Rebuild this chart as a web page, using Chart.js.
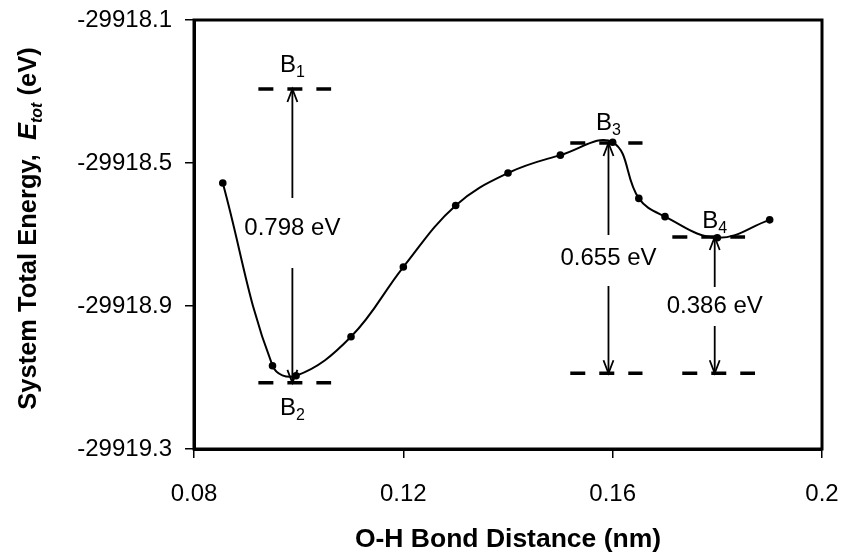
<!DOCTYPE html>
<html>
<head>
<meta charset="utf-8">
<script src="https://cdn.jsdelivr.net/npm/chart.js@4/dist/chart.umd.min.js"></script>
<style>
  body { margin: 0; background: #fff; }
  #wrap { width: 842px; height: 554px; }
</style>
</head>
<body>
<div id="wrap"><canvas id="energyChart" width="842" height="554"></canvas></div>
<script>
// O-H bond distance (nm) and system total energy (eV)
const distances = [0.0855, 0.095, 0.0995, 0.11, 0.12, 0.13, 0.14, 0.15, 0.16, 0.165, 0.17, 0.18, 0.19];
const energies = [-29918.556, -29919.067, -29919.095, -29918.986, -29918.791, -29918.619, -29918.528,
                  -29918.478, -29918.442, -29918.599, -29918.650, -29918.709, -29918.659];

const xTicks = [0.08, 0.12, 0.16, 0.2];
const yTicks = [-29919.3, -29918.9, -29918.5, -29918.1];

// dashed reference levels (x from, x to, energy)
const dashFrom = [0.0923, 0.0923, 0.1519, 0.1519, 0.1714, 0.1733];
const dashTo = [0.1062, 0.1062, 0.1657, 0.1657, 0.1853, 0.1872];
const dashLevel = [-29918.293, -29919.115, -29918.444, -29919.088, -29918.707, -29919.088];

// barrier arrows
const barrierX = [0.0988, 0.1592, 0.1795];
const barrierTop = [-29918.293, -29918.444, -29918.707];
const barrierBottom = [-29919.115, -29919.088, -29919.088];
const barrierLabels = ['0.798 eV', '0.655 eV', '0.386 eV'];

// state labels B1..B4 : x, energy
const stateNames = ['1', '2', '3', '4'];
const stateX = [0.0988, 0.0988, 0.1592, 0.1795];
const stateLevel = [-29918.293, -29919.115, -29918.444, -29918.707];

const FONT = 'Arial, "Liberation Sans", sans-serif';

// little offsets in pixels (style only)
const labelShift = [-8, 0, 1];
const gapUp = [30, 23, 19];
const gapDown = [40, 28, 20];
const stateBaseline = [-17, 32, -13, -9];

function arrowHead(ctx, x, y, dir) {
  ctx.beginPath();
  ctx.moveTo(x - 5, y + dir * 13);
  ctx.lineTo(x, y);
  ctx.lineTo(x + 5, y + dir * 13);
  ctx.stroke();
}

const annotations = {
  id: 'annotations',
  afterDatasetsDraw(chart) {
    const { ctx, chartArea, scales } = chart;
    const xs = scales.x, ys = scales.y;
    ctx.save();
    // box round the plot
    ctx.strokeStyle = '#000';
    ctx.lineWidth = 3;
    ctx.strokeRect(chartArea.left, chartArea.top, chartArea.right - chartArea.left, chartArea.bottom - chartArea.top);

    // arrows with labels
    ctx.lineWidth = 1.8;
    ctx.fillStyle = '#000';
    ctx.font = '24px ' + FONT;
    ctx.textAlign = 'center';
    ctx.textBaseline = 'middle';
    barrierX.forEach((xv, i) => {
      const px = xs.getPixelForValue(xv);
      const top = ys.getPixelForValue(barrierTop[i]);
      const bot = ys.getPixelForValue(barrierBottom[i]);
      const mid = (top + bot) / 2 + labelShift[i];
      ctx.beginPath();
      ctx.moveTo(px, top);
      ctx.lineTo(px, mid - gapUp[i]);
      ctx.moveTo(px, mid + gapDown[i]);
      ctx.lineTo(px, bot);
      ctx.stroke();
      arrowHead(ctx, px, top, 1);
      arrowHead(ctx, px, bot, -1);
      ctx.fillText(barrierLabels[i], px, mid);
    });

    // B labels with subscripts
    ctx.textAlign = 'left';
    ctx.textBaseline = 'alphabetic';
    stateNames.forEach((s, i) => {
      const px = xs.getPixelForValue(stateX[i]);
      const py = ys.getPixelForValue(stateLevel[i]) + stateBaseline[i];
      ctx.font = '24px ' + FONT;
      const wB = ctx.measureText('B').width;
      ctx.font = '16px ' + FONT;
      const wS = ctx.measureText(s).width;
      const x0 = px - (wB + wS) / 2;
      ctx.font = '24px ' + FONT;
      ctx.fillText('B', x0, py);
      ctx.font = '16px ' + FONT;
      ctx.fillText(s, x0 + wB, py + 5);
    });

    // y axis title, mixed styles
    const parts = [
      { t: 'System Total Energy,  ', f: 'bold 25.5px ' + FONT, dy: 0 },
      { t: 'E', f: 'italic bold 25.5px ' + FONT, dy: 0 },
      { t: 'tot', f: 'italic bold 16px ' + FONT, dy: 6 },
      { t: ' (eV)', f: 'bold 25.5px ' + FONT, dy: 0 }
    ];
    let total = 0;
    parts.forEach(p => { ctx.font = p.f; p.w = ctx.measureText(p.t).width; total += p.w; });
    ctx.translate(36, (chartArea.top + chartArea.bottom) / 2 - 6);
    ctx.rotate(-Math.PI / 2);
    let cx = -total / 2;
    parts.forEach(p => {
      ctx.font = p.f;
      ctx.fillText(p.t, cx, p.dy);
      cx += p.w;
    });
    ctx.restore();
  }
};

const datasets = [{
  data: distances.map((d, i) => ({ x: d, y: energies[i] })),
  borderColor: '#000',
  borderWidth: 2,
  pointRadius: 3.8,
  pointBorderWidth: 0,
  pointBackgroundColor: '#000',
  tension: 0.4,
  fill: false
}];
dashFrom.forEach((x0, i) => {
  datasets.push({
    data: [{ x: x0, y: dashLevel[i] }, { x: dashTo[i], y: dashLevel[i] }],
    borderColor: '#000',
    borderWidth: 3.5,
    borderDash: [15, 14],
    pointRadius: 0,
    tension: 0,
    fill: false
  });
});

new Chart(document.getElementById('energyChart').getContext('2d'), {
  type: 'line',
  data: { datasets: datasets },
  options: {
    responsive: false,
    animation: false,
    layout: { padding: { top: 20, right: 20, left: 0, bottom: 0 } },
    plugins: { legend: { display: false }, tooltip: { enabled: false } },
    scales: {
      x: {
        type: 'linear',
        min: 0.08,
        max: 0.2,
        afterBuildTicks: s => { s.ticks = xTicks.map(v => ({ value: v })); },
        afterFit: s => { s.height = 105; s.paddingLeft = 0; s.paddingRight = 0; },
        ticks: {
          color: '#000',
          font: { family: FONT, size: 24 },
          padding: 22,
          autoSkip: false,
          maxRotation: 0,
          callback: v => String(v)
        },
        grid: { drawOnChartArea: false, drawTicks: true, tickLength: 9, color: '#000', lineWidth: 1.5 },
        border: { display: true, color: '#000', width: 3 },
        title: {
          display: true,
          text: 'O-H Bond Distance (nm)',
          color: '#000',
          font: { family: FONT, size: 26.5, weight: 'bold', lineHeight: 1.05 },
          padding: { top: 0, bottom: 0 }
        }
      },
      y: {
        type: 'linear',
        min: -29919.3,
        max: -29918.1,
        afterBuildTicks: s => { s.ticks = yTicks.map(v => ({ value: v })); },
        afterFit: s => { s.width = 194; s.paddingTop = 0; s.paddingBottom = 0; },
        ticks: {
          color: '#000',
          font: { family: FONT, size: 24 },
          padding: 13,
          autoSkip: false,
          callback: v => v.toFixed(1)
        },
        grid: { drawOnChartArea: false, drawTicks: true, tickLength: 9, color: '#000', lineWidth: 1.5 },
        border: { display: true, color: '#000', width: 3 }
      }
    }
  },
  plugins: [annotations]
});
</script>
</body>
</html>
